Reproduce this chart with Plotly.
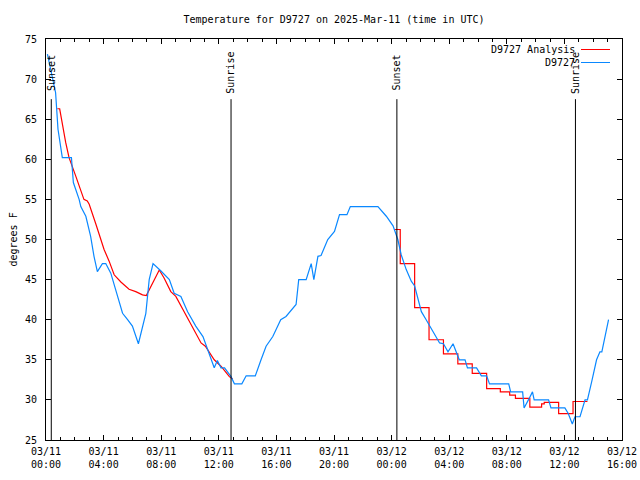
import plotly.graph_objects as go

# ---------------- data ----------------
obs_times = [
    "2025-03-11 00:06", "2025-03-11 00:40", "2025-03-11 00:50", "2025-03-11 01:08", "2025-03-11 01:46",
    "2025-03-11 01:54", "2025-03-11 02:18", "2025-03-11 02:25", "2025-03-11 02:46", "2025-03-11 03:06",
    "2025-03-11 03:20", "2025-03-11 03:34", "2025-03-11 03:55", "2025-03-11 04:09", "2025-03-11 04:30",
    "2025-03-11 04:51", "2025-03-11 05:19", "2025-03-11 05:40", "2025-03-11 06:00", "2025-03-11 06:25",
    "2025-03-11 06:56", "2025-03-11 07:10", "2025-03-11 07:26", "2025-03-11 07:58", "2025-03-11 08:34",
    "2025-03-11 08:54", "2025-03-11 09:22", "2025-03-11 09:50", "2025-03-11 10:24", "2025-03-11 10:54",
    "2025-03-11 11:20", "2025-03-11 11:41", "2025-03-11 11:54", "2025-03-11 12:09", "2025-03-11 12:24",
    "2025-03-11 12:51", "2025-03-11 13:05", "2025-03-11 13:36", "2025-03-11 13:54", "2025-03-11 14:32",
    "2025-03-11 14:56", "2025-03-11 15:17", "2025-03-11 15:45", "2025-03-11 16:18", "2025-03-11 16:40",
    "2025-03-11 17:22", "2025-03-11 17:33", "2025-03-11 18:04", "2025-03-11 18:25", "2025-03-11 18:36",
    "2025-03-11 18:53", "2025-03-11 19:06", "2025-03-11 19:34", "2025-03-11 20:02", "2025-03-11 20:23",
    "2025-03-11 20:54", "2025-03-11 21:08", "2025-03-11 23:03", "2025-03-11 23:38",
    "2025-03-12 00:06", "2025-03-12 00:26", "2025-03-12 00:40", "2025-03-12 01:01", "2025-03-12 01:22",
    "2025-03-12 01:36", "2025-03-12 01:50", "2025-03-12 02:04", "2025-03-12 02:24", "2025-03-12 02:53",
    "2025-03-12 03:20", "2025-03-12 03:36", "2025-03-12 03:55", "2025-03-12 04:16", "2025-03-12 04:36",
    "2025-03-12 04:42", "2025-03-12 05:06", "2025-03-12 05:16", "2025-03-12 05:54", "2025-03-12 06:14",
    "2025-03-12 06:36", "2025-03-12 06:48", "2025-03-12 08:08", "2025-03-12 08:16", "2025-03-12 09:06",
    "2025-03-12 09:12", "2025-03-12 09:30", "2025-03-12 09:47", "2025-03-12 09:54", "2025-03-12 10:54",
    "2025-03-12 11:04", "2025-03-12 12:02", "2025-03-12 12:16", "2025-03-12 12:33", "2025-03-12 12:44",
    "2025-03-12 13:05", "2025-03-12 13:26", "2025-03-12 13:36", "2025-03-12 13:54", "2025-03-12 14:14",
    "2025-03-12 14:28", "2025-03-12 14:36", "2025-03-12 15:04",
]
obs_temps = [
    73.1, 68.3, 63.75, 60.2, 60.2,
    57.1, 55.0, 54.1, 52.9, 50.4,
    47.9, 46.0, 47.0, 47.0, 45.8,
    43.75, 40.8, 40.0, 39.2, 37.0,
    40.8, 45.0, 47.0, 46.1, 45.0,
    43.3, 42.9, 41.0, 39.2, 37.9,
    35.8, 34.0, 34.9, 34.0, 34.0,
    32.9, 32.0, 32.0, 33.0, 33.0,
    35.0, 36.7, 37.9, 40.0, 40.4,
    41.9, 45.0, 45.0, 47.0, 45.0,
    47.9, 48.0, 50.0, 51.0, 53.1,
    53.1, 54.1, 54.1, 52.9,
    51.7, 50.0, 48.1, 46.25, 44.8,
    44.2, 42.5, 41.0, 40.0, 38.5,
    37.1, 37.0, 36.0, 37.0, 35.6,
    35.0, 35.0, 34.0, 34.0, 33.0,
    33.0, 32.0, 32.0, 31.0, 31.0,
    29.0, 30.0, 31.0, 30.0, 30.0,
    29.0, 29.0, 28.3, 27.0, 27.9,
    27.9, 30.0, 30.0, 32.3, 35.0,
    36.0, 36.0, 40.0,
]

ana1_times = [
    "2025-03-11 00:47", "2025-03-11 00:57", "2025-03-11 01:22", "2025-03-11 01:36", "2025-03-11 02:04",
    "2025-03-11 02:38", "2025-03-11 02:52", "2025-03-11 03:00", "2025-03-11 03:28", "2025-03-11 04:02",
    "2025-03-11 04:23", "2025-03-11 04:44", "2025-03-11 05:12", "2025-03-11 05:46", "2025-03-11 06:14",
    "2025-03-11 06:42", "2025-03-11 06:58", "2025-03-11 07:24", "2025-03-11 07:52", "2025-03-11 08:12",
    "2025-03-11 08:40", "2025-03-11 09:01", "2025-03-11 09:43", "2025-03-11 10:11", "2025-03-11 10:46",
    "2025-03-11 11:04", "2025-03-11 11:41", "2025-03-11 12:09", "2025-03-11 12:44", "2025-03-11 12:58",
]
ana1_temps = [
    66.3, 66.3, 62.1, 60.2, 57.9,
    55.0, 54.8, 54.4, 51.9, 48.75,
    47.3, 45.6, 44.7, 43.8, 43.5,
    43.1, 43.0, 44.6, 46.2, 45.2,
    43.5, 42.9, 40.6, 39.0, 37.1,
    36.7, 35.0, 34.2, 32.9, 32.6,
]

ana2_times = [
    "2025-03-12 00:12", "2025-03-12 00:36", "2025-03-12 01:36", "2025-03-12 02:36", "2025-03-12 03:36",
    "2025-03-12 04:36", "2025-03-12 05:36", "2025-03-12 06:36", "2025-03-12 07:33", "2025-03-12 08:12",
    "2025-03-12 08:36", "2025-03-12 09:36", "2025-03-12 10:25", "2025-03-12 10:36", "2025-03-12 11:36",
    "2025-03-12 12:36", "2025-03-12 13:36",
]
ana2_temps = [
    51.25, 47.0, 41.5, 37.5, 35.75,
    34.5, 33.3, 31.4, 31.0, 30.6,
    30.2, 29.1, 29.5, 29.7, 28.3,
    29.8, 29.8,
]

event_times = ["2025-03-11 00:22", "2025-03-11 12:51", "2025-03-12 00:22", "2025-03-12 12:46"]
event_labels = ["Sunset", "Sunrise", "Sunset", "Sunrise"]

tick_vals = ["2025-03-11 00:00", "2025-03-11 04:00", "2025-03-11 08:00", "2025-03-11 12:00",
             "2025-03-11 16:00", "2025-03-11 20:00", "2025-03-12 00:00", "2025-03-12 04:00",
             "2025-03-12 08:00", "2025-03-12 12:00", "2025-03-12 16:00"]
tick_text = ["03/11<br>00:00", "03/11<br>04:00", "03/11<br>08:00", "03/11<br>12:00",
             "03/11<br>16:00", "03/11<br>20:00", "03/12<br>00:00", "03/12<br>04:00",
             "03/12<br>08:00", "03/12<br>12:00", "03/12<br>16:00"]

RED = "#ff0000"
BLUE = "#0a88ff"
FONT = "DejaVu Sans Mono"

fig = go.Figure()
fig.add_trace(go.Scatter(x=ana1_times, y=ana1_temps, mode="lines",
                         line=dict(color=RED, width=1.2), showlegend=False))
fig.add_trace(go.Scatter(x=ana2_times, y=ana2_temps, mode="lines", line_shape="hv",
                         line=dict(color=RED, width=1.2), showlegend=False))
fig.add_trace(go.Scatter(x=obs_times, y=obs_temps, mode="lines",
                         line=dict(color=BLUE, width=1.2), showlegend=False))

# event lines and labels
for t, lab in zip(event_times, event_labels):
    fig.add_shape(type="line", xref="x", yref="y", x0=t, x1=t, y0=25, y1=67.5,
                  line=dict(color="black", width=1))
    fig.add_annotation(x=t, y=70.8, xref="x", yref="y", text=lab, textangle=-90,
                       showarrow=False, xanchor="center", yanchor="middle",
                       font=dict(family=FONT, size=10, color="black"))

# gnuplot-style legend (text then sample)
legend_entries = [("D9727 Analysis", RED), ("D9727", BLUE)]
for i, (name, col) in enumerate(legend_entries):
    ypix = 49.5 + 13 * i
    yp = 1 - (ypix - 39) / 401
    fig.add_annotation(x=(577 - 46) / 576, y=yp, xref="paper", yref="paper", text=name,
                       showarrow=False, xanchor="right", yanchor="middle",
                       font=dict(family=FONT, size=10, color="black"))
    fig.add_shape(type="line", xref="paper", yref="paper",
                  x0=(581 - 46) / 576, x1=(610 - 46) / 576, y0=yp, y1=yp,
                  line=dict(color=col, width=1))

# y-axis title
fig.add_annotation(x=(13 - 46) / 576, y=0.5, xref="paper", yref="paper", text="degrees F",
                   textangle=-90, showarrow=False, xanchor="center", yanchor="middle",
                   font=dict(family=FONT, size=10, color="black"))

fig.update_layout(
    template="none",
    width=640, height=480,
    margin=dict(l=46, r=18, t=39, b=40, autoexpand=False),
    paper_bgcolor="white", plot_bgcolor="white",
    font=dict(family=FONT, size=10, color="black"),
    title=dict(text="Temperature for D9727 on 2025-Mar-11 (time in UTC)",
               x=(334) / 640, xanchor="center", y=1 - 19 / 480, yanchor="middle",
               font=dict(family=FONT, size=10, color="black"), automargin=False),
    showlegend=False,
)
fig.update_xaxes(
    type="date", range=["2025-03-11 00:00", "2025-03-12 16:00"], automargin=False,
    tickmode="array", tickvals=tick_vals, ticktext=tick_text,
    ticks="inside", ticklen=5, tickcolor="black", tickwidth=1,
    minor=dict(tickmode="linear", tick0="2025-03-11 00:00", dtick=3600000,
               ticks="inside", ticklen=3, tickcolor="black", showgrid=False),
    showline=True, linecolor="black", linewidth=1, mirror="allticks",
    showgrid=False, zeroline=False, ticklabelstandoff=2,
    tickfont=dict(family=FONT, size=10, color="black"),
)
fig.update_yaxes(
    range=[25, 75], tickmode="linear", tick0=25, dtick=5, automargin=False,
    ticks="inside", ticklen=5, tickcolor="black", tickwidth=1,
    showline=True, linecolor="black", linewidth=1, mirror="allticks",
    showgrid=False, zeroline=False, ticklabelstandoff=6,
    tickfont=dict(family=FONT, size=10, color="black"),
)

fig.write_html("out.html", config={"displayModeBar": False},
               post_script="document.body.style.margin='0';document.body.style.overflow='hidden';")
